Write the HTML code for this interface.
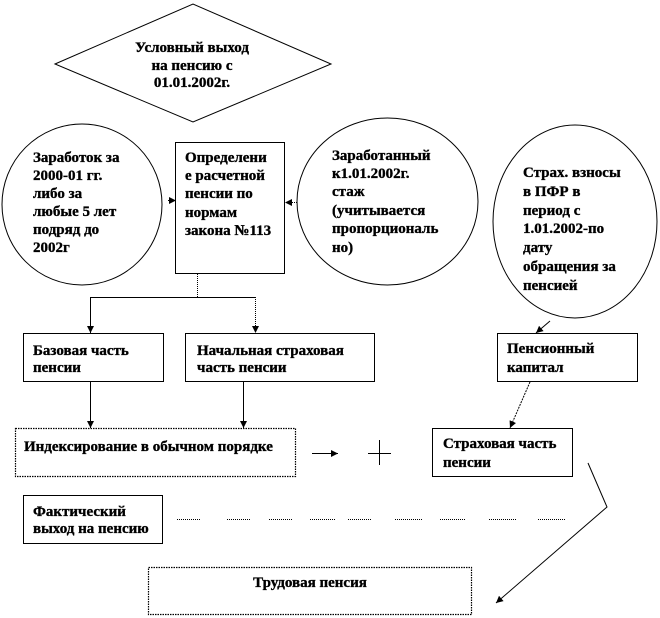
<!DOCTYPE html>
<html>
<head>
<meta charset="utf-8">
<style>
  html,body{margin:0;padding:0;background:#fff;}
  svg{display:block;}
  text{font-family:"Liberation Serif","DejaVu Serif",serif;font-weight:bold;font-size:15px;fill:#000;stroke:#000;stroke-width:0.35px;}
</style>
</head>
<body>
<svg width="660" height="618" viewBox="0 0 660 618" xmlns="http://www.w3.org/2000/svg" font-family="Liberation Serif, serif">
  <defs>
    <marker id="ah" viewBox="0 0 10 10" refX="10" refY="5" markerWidth="7" markerHeight="7" markerUnits="userSpaceOnUse" orient="auto">
      <path d="M0,0 L10,5 L0,10 z" fill="#000"/>
    </marker>
  </defs>

  <!-- Diamond -->
  <polygon points="55,64 193,4 331,64 193,122" fill="#fff" stroke="#000" stroke-width="1"/>
  <text x="192" y="52" text-anchor="middle" font-family="Liberation Serif, serif">Условный выход</text>
  <text x="192" y="70" text-anchor="middle" font-family="Liberation Serif, serif">на пенсию с</text>
  <text x="192" y="87" text-anchor="middle" font-family="Liberation Serif, serif">01.01.2002г.</text>

  <!-- Left circle -->
  <ellipse cx="82" cy="204.5" rx="80" ry="80.5" fill="#fff" stroke="#000" stroke-width="1"/>
  <text x="33" y="162" font-family="Liberation Serif, serif">Заработок за</text>
  <text x="33" y="180" font-family="Liberation Serif, serif">2000-01 гг.</text>
  <text x="33" y="198" font-family="Liberation Serif, serif">либо за</text>
  <text x="33" y="216" font-family="Liberation Serif, serif">любые 5 лет</text>
  <text x="33" y="234" font-family="Liberation Serif, serif">подряд до</text>
  <text x="33" y="252" font-family="Liberation Serif, serif">2002г</text>

  <!-- Center box -->
  <rect x="175.5" y="142.5" width="109" height="131" fill="#fff" stroke="#000" stroke-width="1"/>
  <text x="185" y="162" font-family="Liberation Serif, serif">Определени</text>
  <text x="185" y="180" font-family="Liberation Serif, serif">е расчетной</text>
  <text x="185" y="198" font-family="Liberation Serif, serif">пенсии по</text>
  <text x="185" y="217" font-family="Liberation Serif, serif">нормам</text>
  <text x="185" y="235" font-family="Liberation Serif, serif">закона №113</text>

  <!-- Middle circle -->
  <ellipse cx="387.5" cy="201.5" rx="90.5" ry="83.5" fill="#fff" stroke="#000" stroke-width="1"/>
  <text x="332" y="160" font-family="Liberation Serif, serif">Заработанный</text>
  <text x="332" y="178" font-family="Liberation Serif, serif">к1.01.2002г.</text>
  <text x="332" y="196" font-family="Liberation Serif, serif">стаж</text>
  <text x="332" y="215" font-family="Liberation Serif, serif">(учитывается</text>
  <text x="332" y="233" font-family="Liberation Serif, serif">пропорциональ</text>
  <text x="332" y="252" font-family="Liberation Serif, serif">но)</text>

  <!-- Far right ellipse -->
  <ellipse cx="575" cy="221.5" rx="82" ry="96.5" fill="#fff" stroke="#000" stroke-width="1"/>
  <text x="523" y="177" font-family="Liberation Serif, serif">Страх. взносы</text>
  <text x="523" y="196" font-family="Liberation Serif, serif">в ПФР в</text>
  <text x="523" y="215" font-family="Liberation Serif, serif">период с</text>
  <text x="523" y="233" font-family="Liberation Serif, serif">1.01.2002-по</text>
  <text x="523" y="252" font-family="Liberation Serif, serif">дату</text>
  <text x="523" y="271" font-family="Liberation Serif, serif">обращения за</text>
  <text x="523" y="290" font-family="Liberation Serif, serif">пенсией</text>

  <!-- arrows into center box -->
  <line x1="168" y1="200.5" x2="176" y2="200.5" stroke="#000" stroke-width="1" marker-end="url(#ah)"/>
  <line x1="297" y1="202.5" x2="285" y2="202.5" stroke="#000" stroke-width="1" stroke-dasharray="1 1" marker-end="url(#ah)"/>

  <!-- branch from center box -->
  <line x1="197.5" y1="274" x2="197.5" y2="297" stroke="#000" stroke-width="1" stroke-dasharray="1 1"/>
  <line x1="90" y1="297.5" x2="255" y2="297.5" stroke="#000" stroke-width="1"/>
  <line x1="90.5" y1="297" x2="90.5" y2="333" stroke="#000" stroke-width="1" marker-end="url(#ah)"/>
  <line x1="255.5" y1="297" x2="255.5" y2="333" stroke="#000" stroke-width="1" stroke-dasharray="1 1" marker-end="url(#ah)"/>

  <!-- Базовая часть -->
  <rect x="23.5" y="333.5" width="140" height="48" fill="#fff" stroke="#000" stroke-width="1"/>
  <text x="33" y="355" font-family="Liberation Serif, serif">Базовая часть</text>
  <text x="33" y="372" font-family="Liberation Serif, serif">пенсии</text>

  <!-- Начальная страховая -->
  <rect x="185.5" y="333.5" width="189" height="48" fill="#fff" stroke="#000" stroke-width="1"/>
  <text x="197" y="355" font-family="Liberation Serif, serif">Начальная страховая</text>
  <text x="197" y="372" font-family="Liberation Serif, serif">часть пенсии</text>

  <!-- Пенсионный капитал -->
  <rect x="497.5" y="333.5" width="140" height="48" fill="#fff" stroke="#000" stroke-width="1"/>
  <text x="507" y="353" font-family="Liberation Serif, serif">Пенсионный</text>
  <text x="507" y="372" font-family="Liberation Serif, serif">капитал</text>
  <line x1="550" y1="321" x2="536" y2="333" stroke="#000" stroke-width="1" marker-end="url(#ah)"/>

  <!-- down arrows -->
  <line x1="90.5" y1="381" x2="90.5" y2="428" stroke="#000" stroke-width="1" marker-end="url(#ah)"/>
  <line x1="243.5" y1="381" x2="243.5" y2="428" stroke="#000" stroke-width="1" marker-end="url(#ah)"/>

  <!-- Индексирование -->
  <rect x="15.5" y="428.5" width="280" height="48" fill="#fff" stroke="#000" stroke-width="1.2" stroke-dasharray="1.5 1"/>
  <text x="24" y="451" font-family="Liberation Serif, serif">Индексирование в обычном порядке</text>

  <!-- arrow and plus -->
  <line x1="312" y1="453.5" x2="338" y2="453.5" stroke="#000" stroke-width="1" marker-end="url(#ah)"/>
  <line x1="368" y1="453.5" x2="391" y2="453.5" stroke="#000" stroke-width="1"/>
  <line x1="379.5" y1="440" x2="379.5" y2="465" stroke="#000" stroke-width="1"/>

  <!-- arrow from Пенсионный капитал to Страховая -->
  <line x1="530" y1="382" x2="510" y2="428" stroke="#000" stroke-width="1" stroke-dasharray="2 1" marker-end="url(#ah)"/>

  <!-- Страховая часть -->
  <rect x="432.5" y="428.5" width="140" height="48" fill="#fff" stroke="#000" stroke-width="1"/>
  <text x="443" y="448" font-family="Liberation Serif, serif">Страховая часть</text>
  <text x="443" y="467" font-family="Liberation Serif, serif">пенсии</text>

  <!-- polyline to Трудовая -->
  <polyline points="588,463 607,507 496,603" fill="none" stroke="#000" stroke-width="1" marker-end="url(#ah)"/>

  <!-- Фактический -->
  <rect x="23.5" y="495.5" width="139" height="48" fill="#fff" stroke="#000" stroke-width="1"/>
  <text x="33" y="516" font-family="Liberation Serif, serif">Фактический</text>
  <text x="33" y="533" font-family="Liberation Serif, serif">выход на пенсию</text>

  <!-- dotted dashes -->
  <g stroke="#000" stroke-width="1" stroke-dasharray="1 1">
    <line x1="177" y1="519.5" x2="200" y2="519.5"/>
    <line x1="227" y1="519.5" x2="250" y2="519.5"/>
    <line x1="269" y1="519.5" x2="293" y2="519.5"/>
    <line x1="310" y1="519.5" x2="335" y2="519.5"/>
    <line x1="348" y1="519.5" x2="372" y2="519.5"/>
    <line x1="395" y1="519.5" x2="422" y2="519.5"/>
    <line x1="440" y1="519.5" x2="466" y2="519.5"/>
    <line x1="489" y1="519.5" x2="516" y2="519.5"/>
    <line x1="538" y1="519.5" x2="566" y2="519.5"/>
  </g>

  <!-- Трудовая пенсия -->
  <rect x="148.5" y="567.5" width="323" height="47" fill="#fff" stroke="#000" stroke-width="1.2" stroke-dasharray="1.5 1"/>
  <text x="310" y="587" text-anchor="middle" font-family="Liberation Serif, serif">Трудовая пенсия</text>
</svg>
</body>
</html>
